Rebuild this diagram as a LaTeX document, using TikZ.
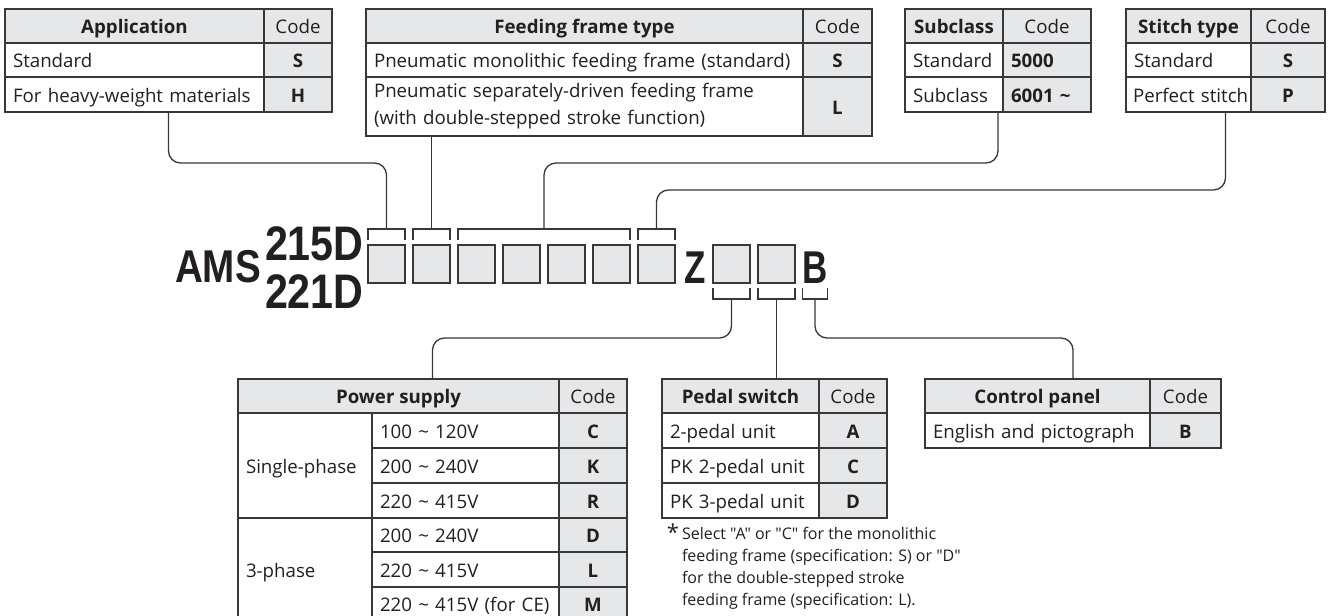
\documentclass[tikz,border=0pt]{standalone}
\usepackage{fontspec}
\setmainfont{Open Sans}[Ligatures=TeXOff]
\newfontfamily\titlefont{Liberation Sans}
\usetikzlibrary{calc}
\definecolor{ink}{HTML}{231F20}
\definecolor{hgray}{HTML}{E6E7E8}
\definecolor{tline}{HTML}{383838}
\newcommand\fn{\fontsize{18.7}{25}\selectfont}
\newcommand\fnb{\fontsize{18.7}{25}\selectfont\bfseries}
\newcommand\sqz[2]{\scalebox{#1}[1]{#2}}
\newcommand\cell[6]{\node[#1, minimum width=#4pt, minimum height=#5pt] (#2) at (#3) {#6};}
\tikzset{
 cellbox/.style={draw=tline, line width=1.4pt, inner ysep=0pt, inner xsep=8pt, outer sep=0pt, anchor=north west, text=ink, font=\fn, text height=17pt, text depth=2pt},
 hcell/.style={cellbox, fill=hgray, font=\fnb},
 ccell/.style={cellbox, fill=hgray},
 vcell/.style={cellbox, fill=hgray, font=\fnb},
 tcell/.style={cellbox, fill=white, align=left, text width=#1},
 lvcell/.style={cellbox, fill=hgray, font=\fnb, align=left, text width=#1},
 codebox/.style={draw=tline, line width=1.4pt, fill=hgray, minimum width=37pt, minimum height=38pt, inner sep=0pt, outer sep=0pt, anchor=north west},
 conn/.style={draw=tline, line width=1.3pt, rounded corners=12pt},
 brk/.style={draw=tline, line width=1.3pt},
 title/.style={text=ink, inner sep=0pt, outer sep=0pt, font=\titlefont\bfseries\fontsize{46}{46}\selectfont},
 titlenum/.style={text=ink, inner sep=0pt, outer sep=0pt, font=\titlefont\bfseries\fontsize{48.5}{48}\selectfont},
 note/.style={text=ink, inner sep=0pt, outer sep=0pt, align=left, font=\fontsize{16}{22}\selectfont},
}
\begin{document}
\begin{tikzpicture}[x=1pt,y=-1pt]
\useasboundingbox (0,0) rectangle (1334,616);
\clip (0,0) rectangle (1334,616);

% ---------- Application ----------
\cell{hcell}{appH}{5,9}{259}{34}{Application}
\cell{ccell}{appC}{264,9}{68}{34}{Code}
\cell{tcell=243pt}{app1}{5,43}{259}{34}{\mbox{Standard}}
\cell{vcell}{app1c}{264,43}{68}{34}{S}
\cell{tcell=243pt}{app2}{5,77}{259}{35}{\mbox{For heavy-weight materials}}
\cell{vcell}{app2c}{264,77}{68}{35}{H}

% ---------- Feeding frame type ----------
\cell{hcell}{fedH}{366,9}{437}{34}{Feeding frame type}
\cell{ccell}{fedC}{803,9}{69}{34}{Code}
\cell{tcell=421pt}{fed1}{366,43}{437}{34}{\mbox{Pneumatic monolithic feeding frame (standard)}}
\cell{vcell}{fed1c}{803,43}{69}{34}{S}
\cell{tcell=421pt, text height=, text depth=, font=\fontsize{18.7}{27}\selectfont}{fed2}{366,77}{437}{59}{Pneumatic separately-driven feeding frame\\(with double-stepped stroke function)}
\cell{vcell}{fed2c}{803,77}{69}{59}{L}

% ---------- Subclass ----------
\cell{hcell}{subH}{905,9}{98}{34}{Subclass}
\cell{ccell}{subC}{1003,9}{88}{34}{Code}
\cell{tcell=82pt}{sub1}{905,43}{98}{34}{\mbox{Standard}}
\cell{lvcell=72pt}{sub1c}{1003,43}{88}{34}{5000}
\cell{tcell=82pt}{sub2}{905,77}{98}{35}{\mbox{Subclass}}
\cell{lvcell=72pt}{sub2c}{1003,77}{88}{35}{\mbox{6001 \textasciitilde}}

% ---------- Stitch type ----------
\cell{hcell}{stH}{1126,9}{125}{34}{Stitch type}
\cell{ccell}{stC}{1251,9}{74}{34}{Code}
\cell{tcell=109pt}{st1}{1126,43}{125}{34}{\mbox{Standard}}
\cell{vcell}{st1c}{1251,43}{74}{34}{S}
\cell{tcell=111pt, inner xsep=7pt}{st2}{1126,77}{125}{35}{\mbox{Perfect stitch}}
\cell{vcell}{st2c}{1251,77}{74}{35}{P}

% ---------- Model code ----------
\node[title, anchor=base west] (ams) at (175,282) {\sqz{0.84}{AMS}};
\node[titlenum, anchor=base west] (m215) at (265,260) {\sqz{0.85}{215D}};
\node[titlenum, anchor=base west] (m221) at (265,308) {\sqz{0.85}{221D}};
\node[codebox] (b1) at (368,245) {};
\node[codebox] (b2) at (413,245) {};
\node[codebox] (b3) at (458,245) {};
\node[codebox] (b4) at (503,245) {};
\node[codebox] (b5) at (548,245) {};
\node[codebox] (b6) at (593,245) {};
\node[codebox] (b7) at (638,245) {};
\node[title, anchor=base] (zt) at (695,283) {\sqz{0.76}{Z}};
\node[codebox] (b8) at (713,245) {};
\node[codebox] (b9) at (758,245) {};
\node[title, anchor=base] (bt) at (815,283) {\sqz{0.76}{B}};

% ---------- brackets ----------
\draw[brk] ($(b1.north west)+(0,-5)$) -- ++(0,-11) -| ($(b1.north east)+(0,-5)$);
\draw[brk] ($(b2.north west)+(0,-5)$) -- ++(0,-11) -| ($(b2.north east)+(0,-5)$);
\draw[brk] ($(b3.north west)+(0,-5)$) -- ++(0,-11) -| ($(b6.north east)+(0,-5)$);
\draw[brk] ($(b7.north west)+(0,-5)$) -- ++(0,-11) -| ($(b7.north east)+(0,-5)$);
\coordinate (br1) at ($(b1.north)+(0,-16)$);
\coordinate (br2) at ($(b2.north)+(0,-16)$);
\coordinate (br3) at ($(b3.north west)!0.5!(b6.north east)+(0,-16)$);
\coordinate (br4) at ($(b7.north)+(0,-16)$);

\draw[brk] ($(b8.south west)+(0,5)$) -- ++(0,11) -| ($(b8.south east)+(0,5)$);
\draw[brk] ($(b9.south west)+(0,5)$) -- ++(0,11) -| ($(b9.south east)+(0,5)$);
\draw[brk] ($(bt.south west)+(0,5)$) -- ++(0,11) -| ($(bt.south east)+(0,5)$);
\coordinate (bb1) at ($(b8.south)+(0,16)$);
\coordinate (bb2) at ($(b9.south)+(0,16)$);
\coordinate (bb3) at ($(bt.south)+(0,16)$);

% ---------- top connectors ----------
\coordinate (appS) at ($(app2.south west)!0.5!(app2c.south east)$);
\coordinate (subS) at ($(sub2.south west)!0.5!(sub2c.south east)$);
\coordinate (stS) at ($(st2.south west)!0.5!(st2c.south east)$);
\draw[conn] (appS) -- ++(0,51) -| (br1);
\draw[conn] (br2 |- fed2.south) -- (br2);
\draw[conn] (subS) -- ++(0,51) -| (br3);
\draw[conn] (stS) -- ++(0,78) -| (br4);

% ---------- Power supply ----------
\cell{hcell}{pwH}{238,379}{321}{34}{Power supply}
\cell{ccell}{pwC}{559,379}{68}{34}{Code}
\cell{tcell=118pt}{pwS}{238,413}{134}{105}{\mbox{Single-phase}}
\cell{tcell=171pt}{pw1}{372,413}{187}{35}{\mbox{100 \textasciitilde\ 120V}}
\cell{vcell}{pw1c}{559,413}{68}{35}{C}
\cell{tcell=171pt}{pw2}{372,448}{187}{35}{\mbox{200 \textasciitilde\ 240V}}
\cell{vcell}{pw2c}{559,448}{68}{35}{K}
\cell{tcell=171pt}{pw3}{372,483}{187}{35}{\mbox{220 \textasciitilde\ 415V}}
\cell{vcell}{pw3c}{559,483}{68}{35}{R}
\cell{tcell=118pt}{pwT}{238,518}{134}{103}{\mbox{3-phase}}
\cell{tcell=171pt}{pw4}{372,518}{187}{34}{\mbox{200 \textasciitilde\ 240V}}
\cell{vcell}{pw4c}{559,518}{68}{34}{D}
\cell{tcell=171pt}{pw5}{372,552}{187}{35}{\mbox{220 \textasciitilde\ 415V}}
\cell{vcell}{pw5c}{559,552}{68}{35}{L}
\cell{tcell=171pt}{pw6}{372,587}{187}{34}{\mbox{220 \textasciitilde\ 415V (for CE)}}
\cell{vcell}{pw6c}{559,587}{68}{34}{M}

% ---------- Pedal switch ----------
\cell{hcell}{pdH}{662,379}{157}{34}{Pedal switch}
\cell{ccell}{pdC}{819,379}{68}{34}{Code}
\cell{tcell=141pt}{pd1}{662,413}{157}{35}{\mbox{2-pedal unit}}
\cell{vcell}{pd1c}{819,413}{68}{35}{A}
\cell{tcell=141pt}{pd2}{662,448}{157}{35}{\mbox{PK 2-pedal unit}}
\cell{vcell}{pd2c}{819,448}{68}{35}{C}
\cell{tcell=141pt}{pd3}{662,483}{157}{35}{\mbox{PK 3-pedal unit}}
\cell{vcell}{pd3c}{819,483}{68}{35}{D}

% ---------- Control panel ----------
\cell{hcell}{ctH}{925,379}{225}{34}{Control panel}
\cell{ccell}{ctC}{1150,379}{71}{34}{Code}
\cell{tcell=209pt}{ct1}{925,413}{225}{35}{\mbox{English and pictograph}}
\cell{vcell}{ct1c}{1150,413}{71}{35}{B}

% ---------- bottom connectors ----------
\coordinate (pwN) at ($(pwH.north west)!0.5!(pwC.north east)$);
\coordinate (ctN) at ($(ctH.north west)!0.5!(ctC.north east)$);
\draw[conn] (bb1) -- ++(0,39) -| (pwN);
\draw[conn] (bb2) -- (bb2 |- pdH.north);
\draw[conn] (bb3) -- ++(0,39) -| (ctN);

% ---------- footnote ----------
\node[text=ink, inner sep=0pt, anchor=north, font=\fontsize{22}{22}\selectfont] (ast) at (673,524) {*};
\node[note, anchor=north west] (fn) at (682,527) {Select "A" or "C" for the monolithic\\feeding frame (specification: S) or "D"\\for the double-stepped stroke\\feeding frame (specification: L).};
\end{tikzpicture}
\end{document}
